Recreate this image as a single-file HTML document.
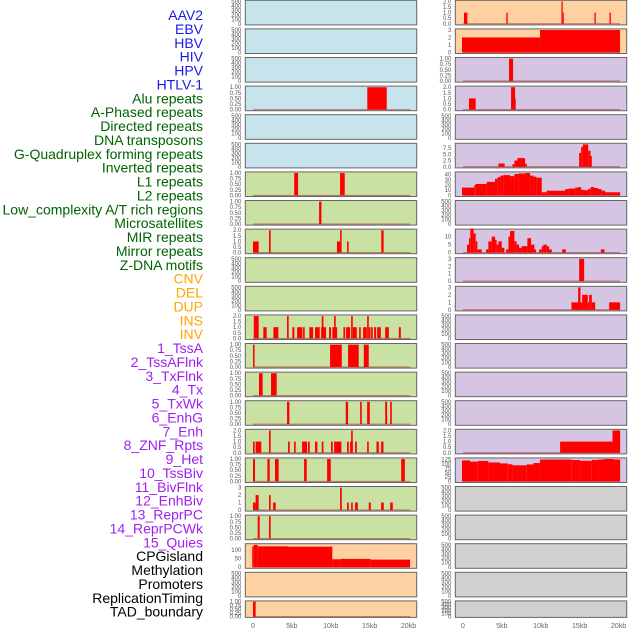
<!DOCTYPE html>
<html><head><meta charset="utf-8"><style>
body{margin:0;background:#fff;}
svg{display:block;font-family:"Liberation Sans",sans-serif;}
</style></head><body>
<svg id="chart" width="630" height="630" viewBox="0 0 630 630" xmlns="http://www.w3.org/2000/svg"></svg>
<script>
const labels = ["AAV2","EBV","HBV","HIV","HPV","HTLV-1","Alu repeats","A-Phased repeats","Directed repeats","DNA transposons","G-Quadruplex forming repeats","Inverted repeats","L1 repeats","L2 repeats","Low_complexity A/T rich regions","Microsatellites","MIR repeats","Mirror repeats","Z-DNA motifs","CNV","DEL","DUP","INS","INV","1_TssA","2_TssAFlnk","3_TxFlnk","4_Tx","5_TxWk","6_EnhG","7_Enh","8_ZNF_Rpts","9_Het","10_TssBiv","11_BivFlnk","12_EnhBiv","13_ReprPC","14_ReprPCWk","15_Quies","CPGisland","Methylation","Promoters","ReplicationTiming","TAD_boundary"];
const groups = ["virus","virus","virus","virus","virus","virus","repeat","repeat","repeat","repeat","repeat","repeat","repeat","repeat","repeat","repeat","repeat","repeat","repeat","sv","sv","sv","sv","sv","chrom","chrom","chrom","chrom","chrom","chrom","chrom","chrom","chrom","chrom","chrom","chrom","chrom","chrom","chrom","other","other","other","other","other"];
const xTicks = [0,5,10,15,20];
const xTickLabels = ["0","5kb","10kb","15kb","20kb"];
const emptyTicks = [0,100,200,300,400,500];
const tHIV = [[14.7,17.2,1]];
const tAlu = [[5.3,5.8,1],[11.2,11.8,1]];
const tAPhased = [[8.5,8.8,1]];
const tDirected = [[0,0.73,1],[2.06,2.27,2],[10.8,11.2,1],[11.2,11.4,2],[12.1,12.3,1],[16.5,16.8,2]];
const tInverted = [[0.1,0.73,2],[1.33,1.76,1],[2.62,3.26,1],[4.38,4.59,2],[5.06,5.32,1],[5.67,6.35,1],[6.44,6.65,1],[7.25,7.73,1],[7.98,8.58,1],[8.76,9.4,1],[8.84,9.06,2],[9.79,10.04,1],[10.21,10.82,1],[10.43,10.64,2],[11.63,11.85,1],[11.97,12.49,1],[12.62,12.83,2],[12.83,13.35,1],[13.65,13.86,1],[14.16,14.64,1],[14.68,14.89,2],[14.89,15.11,1],[15.19,15.41,1],[15.58,15.84,1],[15.97,16.44,1],[17.0,17.47,1],[18.76,19.01,1]];
const tL1 = [[0,0.2,1],[9.91,11.42,1],[12.23,13.6,1],[14.25,14.89,1]];
const tL2 = [[0.77,1.24,1],[2.32,3.05,1]];
const tLow = [[4.38,4.68,1],[11.93,12.23,1],[13.78,13.99,1],[14.68,15.02,1],[17.0,17.25,1],[17.64,17.85,1]];
const tMicro = [[0,0.21,1],[0.34,1.07,1],[2.06,2.27,2],[4.5,4.72,1],[5.28,5.49,1],[6.31,6.95,1],[7.08,7.3,1],[7.98,8.28,1],[8.84,9.06,1],[10.04,10.26,1],[10.43,11.37,1],[12.1,12.32,1],[12.49,12.83,1],[12.62,12.83,2],[13.13,13.35,1],[14.68,14.89,1],[15.88,16.18,1],[16.48,16.78,1]];
const tMIR = [[0,0.26,1],[1.85,2.15,1],[2.83,3.3,1],[6.57,6.91,1],[9.53,10.0,1],[19.06,19.53,1]];
const tMirror = [[0,0.34,1],[0.34,0.73,2],[2.06,2.27,2],[2.58,2.92,1],[11.2,11.42,3],[12.1,12.32,1],[12.62,12.83,1],[13.13,13.48,1],[14.89,15.15,1],[16.48,16.82,1],[17.64,17.98,1]];
const tZDNA = [[0.6,0.86,1],[2.06,2.27,1]];
const tCNV = [[-0.1,0.1,122],[0.1,0.6,130],[0.6,4.5,121],[4.5,9.9,119],[9.9,10.2,120],[10.2,11.3,46],[11.3,15.1,48],[15.1,20.2,44]];
const tDUP = [[0,0.34,1]];
const tINS = [[0.13,0.56,1],[5.58,5.75,1],[12.66,12.83,2],[12.83,12.96,1],[16.91,17.08,1],[18.84,19.01,1]];
const tINV = [[-0.13,9.91,2],[9.91,20.2,3]];
const tTssA = [[5.92,6.44,1]];
const tTssAFlnk = [[0.77,1.63,1],[6.18,6.7,2],[6.44,6.78,1]];
const tTx = [[4.55,5.36,1.3],[6.35,6.61,1],[6.61,7.12,2.5],[7.0,7.98,3.5],[7.98,8.2,1.3],[14.94,15.19,5.6],[15.19,15.41,8],[15.41,16.1,9],[16.1,16.4,6.5],[16.4,16.57,4.3]];
const tTxWk = [[-0.13,1.46,15],[1.46,1.63,20],[1.63,3.05,22],[3.05,4.12,26],[4.12,4.46,32],[4.46,4.81,35],[4.81,5.19,38],[5.19,6.05,39],[6.05,6.61,37],[6.61,7.12,41],[7.12,7.98,42],[7.98,8.63,43],[8.63,9.06,38],[9.06,9.44,36],[9.44,10.13,34],[10.13,10.77,6],[10.77,13.13,9],[13.13,13.56,12],[13.56,14.42,13],[14.42,14.85,15],[14.85,15.19,16],[15.19,15.49,11],[15.49,16.14,10],[16.14,16.44,13],[16.44,16.91,16],[16.91,17.42,14],[17.42,17.85,12],[17.85,18.28,9],[18.28,20.21,6]];
const tEnh = [[0.52,0.77,5],[0.77,0.94,9],[0.94,1.37,15],[1.37,1.63,12],[1.63,1.85,7],[1.85,2.4,2],[2.96,3.26,2],[3.26,3.69,7],[3.69,4.12,10],[4.12,4.33,8],[4.33,4.55,5],[4.55,4.98,7],[4.98,5.32,3],[5.54,5.84,2],[5.84,6.05,10],[6.05,6.61,13.5],[6.61,6.91,7],[6.91,7.21,5],[7.21,7.55,3],[7.55,8.28,4],[8.28,8.76,9],[8.76,9.18,5],[9.18,9.4,2],[9.79,10.13,2],[10.13,10.34,4],[10.34,10.77,5],[10.77,11.07,4],[11.07,11.42,2],[12.75,13.22,2],[17.73,18.2,2]];
const tZNF = [[14.94,15.58,3]];
const tHet = [[13.95,14.85,1],[14.81,15.11,3],[15.11,15.32,1],[15.32,16.05,2],[16.05,16.22,1],[16.22,16.57,2],[16.57,17.0,1],[18.8,20.21,1]];
const tReprPCWk = [[12.49,19.23,1],[19.23,20.21,2]];
const tQuies = [[-0.13,0.9,120],[0.9,1.89,113],[1.89,3.26,117],[3.26,4.76,108],[4.76,5.75,103],[5.75,6.35,98],[6.35,8.2,92],[8.2,9.06,97],[9.06,9.91,105],[9.91,13.99,125],[13.99,15.06,122],[15.06,16.57,118],[16.57,17.42,123],[17.42,18.07,125],[18.07,19.36,128],[19.36,20.21,125]];
const t1 = [0,0.25,0.5,0.75,1], t2=[0,0.5,1,1.5,2], t3=[0,1,2,3];
const trackData = {
 "HIV":[tHIV,1,t1],"Alu repeats":[tAlu,1,t1],"A-Phased repeats":[tAPhased,1,t1],"Directed repeats":[tDirected,2,t2],
 "Inverted repeats":[tInverted,2,t2],"L1 repeats":[tL1,1,t1],"L2 repeats":[tL2,1,t1],"Low_complexity A/T rich regions":[tLow,1,t1],
 "Microsatellites":[tMicro,2,t2],"MIR repeats":[tMIR,1,t1],"Mirror repeats":[tMirror,3,t3],"Z-DNA motifs":[tZDNA,1,t1],
 "CNV":[tCNV,130,[0,50,100]],"DUP":[tDUP,1,t1],"INS":[tINS,2,t2],"INV":[tINV,3,t3],"1_TssA":[tTssA,1,t1],
 "2_TssAFlnk":[tTssAFlnk,2,t2],"4_Tx":[tTx,9,[0,2.5,5,7.5]],"5_TxWk":[tTxWk,43,[0,10,20,30,40]],"7_Enh":[tEnh,14,[0,5,10]],
 "8_ZNF_Rpts":[tZNF,3,t3],"9_Het":[tHet,3,t3],"14_ReprPCWk":[tReprPCWk,2,t2],"15_Quies":[tQuies,128,[0,25,50,75,100,125]]
};
const labelColors={virus:"#1a1ae6",repeat:"#006400",sv:"#ffa500",chrom:"#a020f0",other:"#000"};
const bgColors={virus:"#c7e4ec",repeat:"#c9e1a3",sv:"#fed1a2",chrom:"#d5c5e3",other:"#d1d1d1"};
const NS="http://www.w3.org/2000/svg";
const svg=document.getElementById('chart');
function mk(tag,attrs,parent){const e=document.createElementNS(NS,tag);for(const k in attrs)e.setAttribute(k,attrs[k]);(parent||svg).appendChild(e);return e;}
function slug(s){return s.toLowerCase().replace(/[^a-z0-9]+/g,'-').replace(/^-|-$/g,'');}
function fmt(v,ticks){const mx=ticks[ticks.length-1];if(mx===1)return v.toFixed(2);if(mx===2)return v.toFixed(1);if(ticks.includes(2.5))return v.toFixed(1);return String(v);}
labels.forEach((l,i)=>{
  const t=mk('text',{x:203,y:15+i*13.875+5,'text-anchor':'end','font-size':14,fill:labelColors[groups[i]]});
  
  
  t.textContent=l;
});
const colX=[245.3,455.3], PW=171.4;
labels.forEach((l,i)=>{
  const col=i<22?0:1,row=i%22;
  const px=colX[col],py=0.3+row*28.6,ph=row===21?16.5:24.6;
  const g=mk('g',{});
  
  
  mk('rect',{x:px,y:py,width:PW,height:ph,fill:bgColors[groups[i]],stroke:'#666','stroke-width':1},g);
  const d=trackData[l];
  const ymax=d?d[1]:500, ticks=d?d[2]:emptyTicks;
  const lo=-0.05*ymax, hi=1.05*ymax;
  const xs=v=>px+7.7+v/20*155.5;
  const ys=v=>py+ph-(v-lo)/(hi-lo)*ph;
  ticks.forEach(tv=>{
    const t=mk('text',{x:px-4,y:ys(tv)+2,'text-anchor':'end','font-size':6,fill:'#555'},g);
    
    
    t.textContent=d?fmt(tv,ticks):String(tv);
  });
  if(d){
    mk('line',{x1:xs(0),x2:xs(20.2),y1:ys(0),y2:ys(0),stroke:'rgba(170,40,40,0.6)','stroke-width':1},g);
    d[0].forEach(s=>{
      const r=mk('rect',{x:xs(s[0]),y:ys(s[2]),width:Math.max(0.8,xs(s[1])-xs(s[0])),height:ys(0)-ys(s[2]),fill:'#ff0000'},g);
      
      
    });
  }
});
[0,1].forEach(col=>{
  xTicks.forEach((v,k)=>{
    const t=mk('text',{x:colX[col]+7.7+v/20*155.5,y:628,'text-anchor':'middle','font-size':7,fill:'#666'});
    
    
    t.textContent=xTickLabels[k];
  });
});
</script>
</body></html>
